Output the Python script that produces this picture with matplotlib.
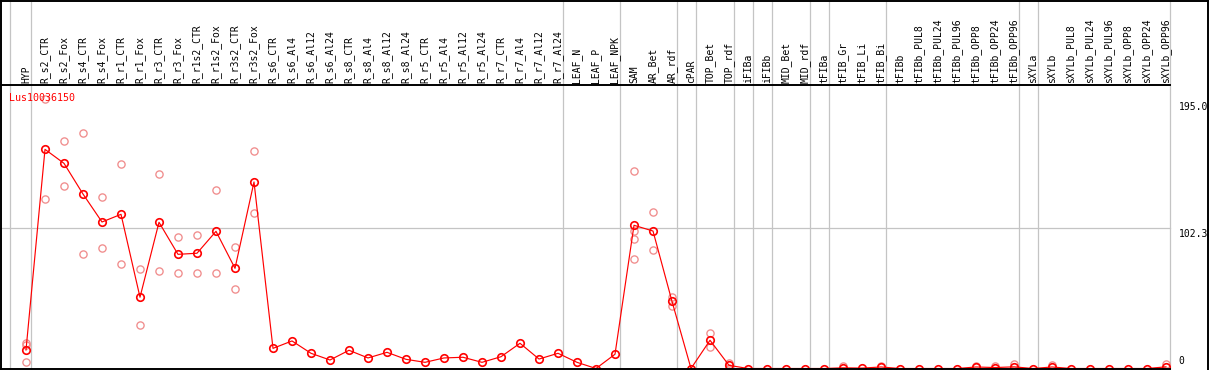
import matplotlib
matplotlib.use("Agg")
import matplotlib.pyplot as plt
from matplotlib.patches import Rectangle

# ---------------- data ----------------
gene_id = "Lus10036150"

categories = [
    "HYP", "R_s2_CTR", "R_s2_Fox", "R_s4_CTR", "R_s4_Fox", "R_r1_CTR", "R_r1_Fox",
    "R_r3_CTR", "R_r3_Fox", "R_r1s2_CTR", "R_r1s2_Fox", "R_r3s2_CTR", "R_r3s2_Fox",
    "R_s6_CTR", "R_s6_Al4", "R_s6_Al12", "R_s6_Al24", "R_s8_CTR", "R_s8_Al4",
    "R_s8_Al12", "R_s8_Al24", "R_r5_CTR", "R_r5_Al4", "R_r5_Al12", "R_r5_Al24",
    "R_r7_CTR", "R_r7_Al4", "R_r7_Al12", "R_r7_Al24", "LEAF_N", "LEAF_P", "LEAF_NPK",
    "SAM", "AR_Bet", "AR_rdf", "cPAR", "TOP_Bet", "TOP_rdf", "iFIBa", "iFIBb",
    "MID_Bet", "MID_rdf", "tFIBa", "tFIB_Gr", "tFIB_Li", "tFIB_Bi", "tFIBb",
    "tFIBb_PUL8", "tFIBb_PUL24", "tFIBb_PUL96", "tFIBb_OPP8", "tFIBb_OPP24",
    "tFIBb_OPP96", "sXYLa", "sXYLb", "sXYLb_PUL8", "sXYLb_PUL24", "sXYLb_PUL96",
    "sXYLb_OPP8", "sXYLb_OPP24", "sXYLb_OPP96",
]

mean_values = [
    13.5, 159.9, 149.7, 127.3, 106.9, 112.5, 52.0, 106.7, 83.3, 84.1, 100.1, 73.1, 136.1,
    14.7, 20.1, 11.1, 6.2, 13.3, 7.7, 11.8, 6.7, 4.5, 7.7, 8.2, 4.5, 8.6, 18.4, 6.9, 11.1,
    4.5, 0.0, 10.4,
    104.5, 100.3, 49.0, 0.0, 20.6, 2.3,
    0.0, 0.0, 0.0, 0.0, 0.0, 0.5, 0.3, 1.1,
    0.0, 0.0, 0.0, 0.0, 1.1, 0.7, 1.2,
    0.0, 1.1, 0.0, 0.0, 0.0, 0.0, 0.0, 1.2,
]

replicate_values = [
    [18.8, 17.1, 4.5], [196.6, 123.4], [165.8, 133.2], [171.6, 83.3], [124.9, 87.7],
    [149.0, 76.0], [72.4, 31.5], [141.7, 70.9], [95.7, 69.9], [97.2, 69.9],
    [130.2, 69.5], [88.4, 57.8], [158.5, 113.2],
    [], [], [], [], [], [], [], [], [], [], [], [], [], [], [], [], [], [], [],
    [143.9, 100.3, 94.3, 79.7], [114.0, 86.2], [52.4, 45.8], [], [25.7, 15.5], [4.2, 0.5],
    [], [], [], [], [], [1.8], [], [1.6],
    [], [], [], [], [1.8], [2.0], [3.0],
    [], [2.5], [], [], [], [], [], [3.0],
]

y_tick_values = [195.0, 102.3, 0]
y_tick_labels = ["195.0", "102.3", "0"]
group_separators = [-0.83, 0.25, 28.25, 31.25, 34.25, 35.25, 37.25, 38.25, 39.25,
                    41.25, 42.25, 45.25, 52.25, 53.25, 60.22]

# ---------------- layout (pixel geometry) ----------------
W, H = 1209, 370
X0, DX = 26.0, 19.0          # pixel x of first category, spacing
Y0, SY = 368.5, 1.3705       # pixel y (from top) of value 0, pixels per unit


def px_x(p):
    return (p - X0) / DX


def px_y(p):
    return (Y0 - p) / SY


fig = plt.figure(figsize=(W / 100, H / 100), dpi=100)
ax = fig.add_axes([0, 0, 1, 1])
ax.axis("off")
ax.set_xlim(px_x(0), px_x(W))
ax.set_ylim(px_y(H), px_y(0))

mono = "DejaVu Sans Mono"
gray = "#c4c4c4"

x_right = group_separators[-1]
header_v = px_y(85)

# gray grid lines
for s in group_separators:
    ax.plot([s, s], [px_y(H), px_y(0)], color=gray, lw=0.9, zorder=1, clip_on=False)
ax.plot([px_x(0), x_right], [102.3, 102.3], color=gray, lw=0.9, zorder=1)

# black frame lines
ax.plot([px_x(0), px_x(W)], [px_y(0.8), px_y(0.8)], color="black", lw=1.4, zorder=5, clip_on=False)
ax.plot([px_x(0.8), px_x(0.8)], [px_y(H), px_y(0)], color="black", lw=1.4, zorder=5, clip_on=False)
ax.plot([px_x(1207.6), px_x(1207.6)], [px_y(H), px_y(0)], color="black", lw=1.4, zorder=5, clip_on=False)
ax.plot([px_x(0), x_right], [header_v, header_v], color="black", lw=1.4, zorder=5)
ax.plot([px_x(0), x_right], [px_y(369.0), px_y(369.0)], color="black", lw=1.4, zorder=5)

# category labels (rotated, in the header)
label_v = px_y(82.5)
for i, c in enumerate(categories):
    ax.text(i, label_v, c, rotation=90, ha="center", va="bottom",
            fontsize=7, family=mono, color="black", zorder=6)

# right-side value labels
lab_x = px_x(1178.5)
for v, t in zip(y_tick_values, y_tick_labels):
    if v == 0:
        ax.text(lab_x, px_y(366), t, ha="left", va="bottom", fontsize=7, family=mono, zorder=6)
    else:
        ax.text(lab_x, v - 0.6, t, ha="left", va="top", fontsize=7, family=mono, zorder=6)

# gene label
ax.text(px_x(9), px_y(97.5), gene_id, ha="left", va="center", fontsize=7.2,
        family=mono, color="red", zorder=6)

# clipping region for data marks
clip = Rectangle((px_x(0), 0), x_right - px_x(0), header_v, transform=ax.transData,
                 facecolor="none", edgecolor="none")
ax.add_patch(clip)

# replicates
rx, ry = [], []
for i, reps in enumerate(replicate_values):
    for r in reps:
        rx.append(i)
        ry.append(r)
rep_art, = ax.plot(rx, ry, linestyle="none", marker="o", markersize=5.2,
                   markerfacecolor="none", markeredgecolor="#f08c8c",
                   markeredgewidth=0.95, zorder=3)
rep_art.set_clip_path(clip)

# mean line + markers
xs = list(range(len(categories)))
line_art, = ax.plot(xs, mean_values, color="red", lw=0.85, marker="o", markersize=5.4,
                    markerfacecolor="none", markeredgecolor="red",
                    markeredgewidth=1.2, zorder=4)
line_art.set_clip_path(clip)

fig.savefig("out.png", dpi=100)
